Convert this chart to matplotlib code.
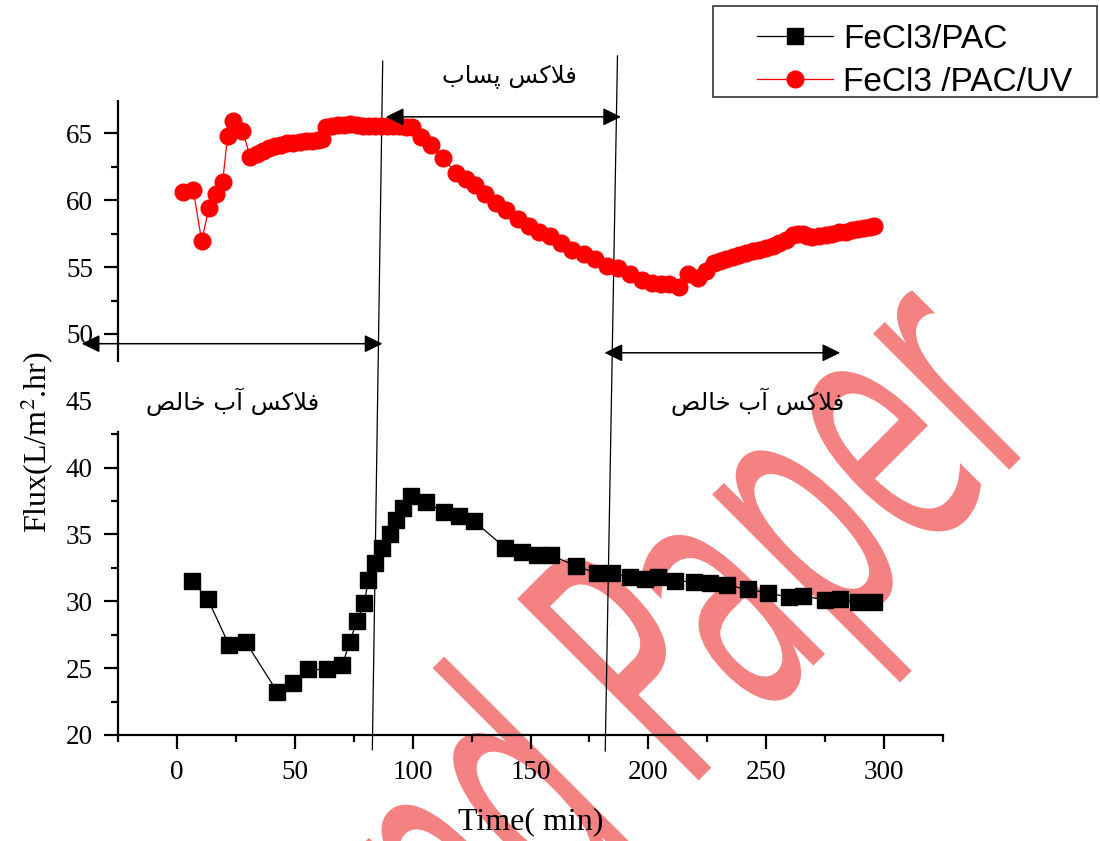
import matplotlib
matplotlib.use('Agg')
import matplotlib.pyplot as plt
from matplotlib.textpath import TextPath
from matplotlib.patches import PathPatch, Rectangle
from matplotlib.font_manager import FontProperties
from matplotlib.transforms import Affine2D
from matplotlib.ticker import FixedLocator

# Flux of FeCl3/PAC
t_pac = [6.2, 13.0, 22.2, 29.2, 42.5, 49.3, 55.6, 63.7, 70.2, 73.3, 76.3, 79.5,
         81.2, 84.0, 87.0, 90.4, 93.1, 95.9, 99.2, 105.8, 113.3, 119.5, 126.0,
         139.3, 146.3, 152.8, 158.7, 169.2, 178.0, 184.5, 192.0, 198.7, 204.3,
         211.3, 219.4, 226.2, 233.3, 242.2, 250.7, 259.7, 265.8, 274.9, 281.1,
         289.1, 295.8]
flux_pac = [31.55, 30.2, 26.7, 26.95, 23.25, 23.9, 24.9, 24.9, 25.25, 26.95, 28.5, 29.9,
            31.6, 32.9, 34.0, 35.05, 36.1, 37.0, 37.85, 37.4, 36.65, 36.35, 36.0,
            34.0, 33.7, 33.5, 33.45, 32.65, 32.1, 32.1, 31.85, 31.7, 31.85,
            31.55, 31.45, 31.4, 31.2, 30.9, 30.63, 30.3, 30.4, 30.1, 30.15,
            29.98, 29.98]

# Flux of FeCl3/PAC/UV
t_uv = [2.7, 6.9, 10.5, 13.6, 16.5, 19.4, 21.5, 23.9, 27.8, 31.2, 33.8, 36.4, 39.0,
        41.6, 44.2, 46.8, 49.4, 52.0, 54.6, 57.2, 59.8, 61.6, 63.2, 65.8, 68.4, 71.0,
        73.6, 76.2, 78.8, 81.4, 84.0, 86.6, 89.2, 91.8, 94.4, 97.0, 99.6, 103.7,
        107.6, 112.9, 118.2, 122.5, 126.3, 130.9, 135.5, 139.4, 144.6, 149.3, 153.8,
        158.3, 163.0, 167.6, 172.9, 177.5, 182.3, 187.2, 192.0, 197.2, 201.5, 205.4,
        208.9, 213.1, 216.7, 220.9, 224.4, 227.9, 230.5, 233.0, 235.8, 238.6, 241.4,
        244.2, 247.0, 249.9, 252.7, 255.5, 258.3, 261.2, 263.5, 265.4, 267.5, 269.6,
        272.5, 275.3, 278.0, 281.0, 283.8, 286.6, 289.0, 291.5, 294.0, 295.8]
flux_uv = [60.6, 60.8, 56.95, 59.45, 60.45, 61.4, 64.8, 65.9, 65.2, 63.2, 63.45, 63.7, 63.9,
           64.05, 64.15, 64.25, 64.3, 64.35, 64.4, 64.45, 64.5, 64.55, 65.5, 65.55, 65.6, 65.6,
           65.7, 65.6, 65.55, 65.55, 65.55, 65.55, 65.55, 65.55, 65.55, 65.5, 65.45, 64.7,
           64.1, 63.15, 62.05, 61.6, 61.15, 60.45, 59.8, 59.3, 58.6, 58.1, 57.6,
           57.3, 56.8, 56.3, 55.95, 55.6, 55.1, 54.95, 54.5, 54.0, 53.8, 53.7,
           53.7, 53.5, 54.5, 54.2, 54.7, 55.3, 55.45, 55.6, 55.75, 55.9, 56.05,
           56.2, 56.3, 56.45, 56.6, 56.8, 57.0, 57.4, 57.5, 57.45, 57.3, 57.25,
           57.3, 57.4, 57.5, 57.6, 57.65, 57.75, 57.85, 57.95, 58.0, 58.07]

label_pure = 'فلاکس آب خالص'
label_waste = 'فلاکس پساب'

# arabic presentation forms: isolated, final, initial, medial
FORMS = {
    'ا': ('\uFE8D', '\uFE8E', None, None),
    'آ': ('\uFE81', '\uFE82', None, None),
    'لا': ('\uFEFB', '\uFEFC', None, None),
    'ب': ('\uFE8F', '\uFE90', '\uFE91', '\uFE92'),
    'پ': ('\uFB56', '\uFB57', '\uFB58', '\uFB59'),
    'خ': ('\uFEA5', '\uFEA6', '\uFEA7', '\uFEA8'),
    'س': ('\uFEB1', '\uFEB2', '\uFEB3', '\uFEB4'),
    'ص': ('\uFEB9', '\uFEBA', '\uFEBB', '\uFEBC'),
    'ف': ('\uFED1', '\uFED2', '\uFED3', '\uFED4'),
    'ک': ('\uFB8E', '\uFB8F', '\uFB90', '\uFB91'),
    'ل': ('\uFEDD', '\uFEDE', '\uFEDF', '\uFEE0'),
}


def shape(text):
    # matplotlib has no bidi/shaping, so join the letters by hand
    words = []
    for word in text.split(' '):
        toks = []
        i = 0
        while i < len(word):
            if word[i:i + 2] == 'لا':
                toks.append('لا')
                i += 2
            else:
                toks.append(word[i])
                i += 1
        out = []
        for k, tk in enumerate(toks):
            prev = k > 0 and FORMS[toks[k - 1]][2] is not None
            nxt = k < len(toks) - 1 and FORMS[tk][2] is not None
            idx = {(False, False): 0, (True, False): 1, (False, True): 2, (True, True): 3}[(prev, nxt)]
            out.append(FORMS[tk][idx])
        words.append(''.join(reversed(out)))
    return ' '.join(reversed(words))


plt.rcParams['font.family'] = 'Liberation Serif'
plt.rcParams['mathtext.fontset'] = 'stix'

fig = plt.figure(figsize=(11, 8.41), dpi=100)
ax = fig.add_axes([118 / 1100, 106 / 841, 825 / 1100, 635 / 841])
ax.patch.set_visible(False)

ax.plot(t_pac, flux_pac, color='black', lw=0.9, marker='s', ms=11, label='FeCl3/PAC', zorder=3)
ax.plot(t_uv, flux_uv, color='red', lw=0.9, marker='o', ms=12, label='FeCl3 /PAC/UV', zorder=3)

ax.set_xlim(-25, 325)
ax.set_ylim(20, 67.5)
ax.set_xticks(range(0, 301, 50))
ax.xaxis.set_minor_locator(FixedLocator(range(-25, 326, 50)))
ax.set_yticks(range(20, 66, 5))
ax.yaxis.set_minor_locator(FixedLocator([22.5, 27.5, 32.5, 37.5, 42.5, 52.5, 57.5, 62.5]))
ax.tick_params(which='major', direction='out', length=10, width=1.6, labelsize=19.5)
ax.tick_params(which='minor', direction='out', length=5, width=1.6)
ax.tick_params(axis='x', which='major', pad=8)
ax.tick_params(axis='y', which='major', pad=8)
ax.yaxis.get_major_ticks()[5].tick1line.set_visible(False)

for s in ['top', 'right']:
    ax.spines[s].set_visible(False)
for s in ['left', 'bottom']:
    ax.spines[s].set_linewidth(1.6)
# broken y axis: lower part is the spine, upper part a separate line
ax.spines['left'].set_bounds(20, 42.7)
ax.plot([0, 0], [47.9, 67.5], transform=ax.get_yaxis_transform(), color='black',
        lw=1.6, clip_on=False, solid_capstyle='butt')

# boundaries between the water and wastewater stages
ax.plot([87.3, 82.9], [70.4, 18.9], color='black', lw=0.9, clip_on=False)
ax.plot([186.9, 181.7], [70.8, 18.8], color='black', lw=0.9, clip_on=False)

arrow = dict(arrowstyle='<|-|>,head_length=0.55,head_width=0.27', color='black',
             lw=1.1, shrinkA=0, shrinkB=0, mutation_scale=20)
ax.annotate('', xy=(-40.4, 49.27), xytext=(87.2, 49.27), arrowprops=arrow, annotation_clip=False)
ax.annotate('', xy=(88.6, 66.24), xytext=(188.4, 66.24), arrowprops=arrow, annotation_clip=False)
ax.annotate('', xy=(181.4, 48.59), xytext=(281.4, 48.59), arrowprops=arrow, annotation_clip=False)

ax.text(23.7, 44.94, shape(label_pure), family='DejaVu Sans', fontsize=17.5, ha='center', va='center')
ax.text(246.2, 44.94, shape(label_pure), family='DejaVu Sans', fontsize=17.5, ha='center', va='center')
ax.text(141.1, 69.2, shape(label_waste), family='DejaVu Sans', fontsize=17.5, ha='center', va='center',
        clip_on=False)

fig.text(531 / 1100, 19 / 841, 'Time( min)', fontsize=23, ha='center', va='center')
fig.text(37 / 1100, 399 / 841, 'Flux(L/m$^2$.hr)', fontsize=23, rotation=90, ha='center', va='center')

# legend: entries placed without a frame, box drawn separately
fig.legend(loc='upper left', bbox_to_anchor=(757 / 1100, 1 - 24 / 841), borderaxespad=0,
           prop=FontProperties(family='Liberation Sans', size=24), frameon=False,
           handlelength=2.28, handletextpad=0.3, labelspacing=0.36, borderpad=0)
fig.add_artist(Rectangle((713 / 1100, 744 / 841), 384 / 1100, 91 / 841, transform=fig.transFigure,
                         facecolor='white', edgecolor='#333333', lw=1.2, zorder=1))

# watermark stamped across the figure
wm_font = FontProperties(family='DejaVu Sans')
wm = TextPath((0, 0), 'Paper', size=1, prop=wm_font)
wm_pre = TextPath((-2.2, 0), 'and', size=1, prop=wm_font)
tr = Affine2D().scale(182, 352).rotate_deg(45).translate(686, 48)
for p in (wm, wm_pre):
    fig.add_artist(PathPatch(p, transform=tr, facecolor='#F48282', edgecolor='none', zorder=-1))

fig.savefig('out.png', dpi=100)
